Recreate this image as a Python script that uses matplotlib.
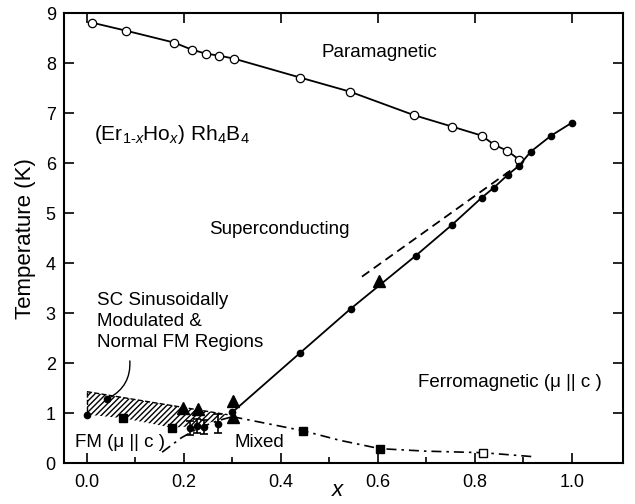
import numpy as np
import matplotlib
matplotlib.use("Agg")
import matplotlib.pyplot as plt

plt.rcParams['font.family'] = ['Liberation Sans', 'DejaVu Sans']
plt.rcParams['mathtext.fontset'] = 'custom'
plt.rcParams['mathtext.rm'] = 'Liberation Sans'
plt.rcParams['mathtext.it'] = 'Liberation Sans:italic'

# paramagnetic -> superconducting boundary (open circles)
x_para = [0.01, 0.08, 0.18, 0.216, 0.245, 0.272, 0.303, 0.44, 0.542, 0.674, 0.753, 0.814, 0.839, 0.866, 0.891]
t_para = [8.81, 8.65, 8.41, 8.27, 8.19, 8.15, 8.09, 7.71, 7.43, 6.96, 6.73, 6.55, 6.37, 6.25, 6.07]

# ferromagnetic ordering line (filled circles)
x_fm = [0.30, 0.44, 0.544, 0.678, 0.753, 0.814, 0.839, 0.868, 0.891, 0.915, 0.957, 1.0]
t_fm = [1.02, 2.21, 3.09, 4.15, 4.77, 5.31, 5.51, 5.77, 5.95, 6.23, 6.55, 6.81]

# extrapolated dashed line
x_dash = [0.567, 0.88]
t_dash = [3.73, 5.90]

# low-x filled circles
x_lowc = [0.0, 0.041]
t_lowc = [0.97, 1.28]

# triangles
x_tri = [0.198, 0.229, 0.301, 0.301, 0.602]
t_tri = [1.11, 1.09, 1.25, 0.93, 3.65]

# filled squares
x_sq = [0.074, 0.175, 0.445, 0.604]
t_sq = [0.90, 0.70, 0.65, 0.29]

# open square
x_osq = [0.816]
t_osq = [0.21]

# points with error bars
x_err = [0.212, 0.227, 0.241, 0.27]
t_err = [0.71, 0.75, 0.73, 0.79]
e_err = [0.14, 0.14, 0.14, 0.19]

# dash-dot boundaries
x_dd1 = [0.155, 0.195, 0.23, 0.27, 0.30]
t_dd1 = [0.22, 0.51, 0.70, 0.85, 0.93]
x_dd2 = [0.30, 0.445, 0.52, 0.604, 0.70, 0.816, 0.92]
t_dd2 = [0.93, 0.65, 0.46, 0.29, 0.24, 0.21, 0.13]

# hatched region outline
x_hatch = [0.0, 0.29, 0.27, 0.22, 0.175, 0.074, 0.0]
t_hatch = [1.43, 0.97, 0.85, 0.74, 0.71, 0.90, 0.97]

fig = plt.figure(figsize=(6.35, 5.04), dpi=100)
ax = fig.add_axes([0.101, 0.081, 0.880, 0.893])

ax.fill(x_hatch, t_hatch, facecolor='none', edgecolor='black', hatch='//////',
        linewidth=0)
ax.plot([x_hatch[0], x_hatch[1]], [t_hatch[0], t_hatch[1]], '--', color='black', lw=1.0)
ax.plot([x_hatch[0], x_hatch[-1]], [t_hatch[0], t_hatch[-1]], '--', color='black', lw=1.0)

ax.plot(x_para, t_para, '-', color='black', lw=1.3, marker='o', ms=6,
        mfc='white', mec='black', mew=0.9, zorder=3)
ax.plot(x_fm, t_fm, '-', color='black', lw=1.3, marker='o', ms=4.5,
        mfc='black', mec='black', zorder=3)
ax.plot(x_dash, t_dash, '--', color='black', lw=1.3, dashes=(5, 3))
ax.plot(x_dd1, t_dd1, '-.', color='black', lw=1.2, dashes=(6, 3, 1.5, 3))
ax.plot(x_dd2, t_dd2, '-.', color='black', lw=1.2, dashes=(6, 3, 1.5, 3))

ax.plot(x_lowc, t_lowc, 'o', color='black', ms=4.5, zorder=4)
ax.plot(x_tri, t_tri, '^', color='black', ms=8.5, zorder=4)
ax.plot(x_sq, t_sq, 's', color='black', ms=5.5, zorder=4)
ax.plot(x_osq, t_osq, 's', mfc='white', mec='black', ms=5.5, zorder=4)
ax.errorbar(x_err, t_err, yerr=e_err, fmt='o', color='black', ms=4.5,
            capsize=3, elinewidth=1.2, capthick=1.2, zorder=4)

fs = 13.5
ax.text(0.602, 8.21, 'Paramagnetic', fontsize=fs, ha='center', va='center')
ax.text(0.396, 4.67, 'Superconducting', fontsize=fs, ha='center', va='center')
ax.text(0.872, 1.61, 'Ferromagnetic (\u03bc || c )', fontsize=fs, ha='center', va='center')
ax.text(0.015, 6.57, r'(Er$_{1\text{-}x}$Ho$_{x}$) Rh$_4$B$_4$', fontsize=15,
        ha='left', va='center')
ax.text(0.02, 2.83, 'SC Sinusoidally\nModulated &\nNormal FM Regions', fontsize=fs,
        ha='left', va='center', linespacing=1.32)
ax.text(-0.025, 0.42, 'FM (\u03bc || c )', fontsize=fs, ha='left', va='center')
ax.text(0.305, 0.42, 'Mixed', fontsize=fs, ha='left', va='center')

ax.annotate('', xy=(0.041, 1.28), xytext=(0.088, 2.1),
            arrowprops=dict(arrowstyle='-', color='black', lw=1.0,
                            connectionstyle='arc3,rad=-0.35'))

ax.set_xlim(-0.047, 1.105)
ax.set_ylim(0, 9)
ax.set_xticks(np.arange(0, 1.01, 0.2))
ax.set_xticks(np.arange(0.1, 1.0, 0.2), minor=True)
ax.set_xticklabels(['0.0', '0.2', '0.4', '0.6', '0.8', '1.0'])
ax.set_yticks(range(0, 10))
ax.tick_params(which='major', direction='in', length=7, width=1.2,
               labelsize=13, top=True, right=True)
ax.tick_params(axis='x', which='major', pad=8)
ax.tick_params(axis='y', which='major', pad=6)
ax.tick_params(which='minor', direction='in', length=4, width=1.2, top=False)
for s in ax.spines.values():
    s.set_linewidth(1.5)

ax.set_xlabel('x', fontsize=16, style='italic')
ax.xaxis.set_label_coords(0.49, -0.037)
ax.set_ylabel('Temperature (K)', fontsize=16, labelpad=7)

fig.savefig('out.png', dpi=100)
